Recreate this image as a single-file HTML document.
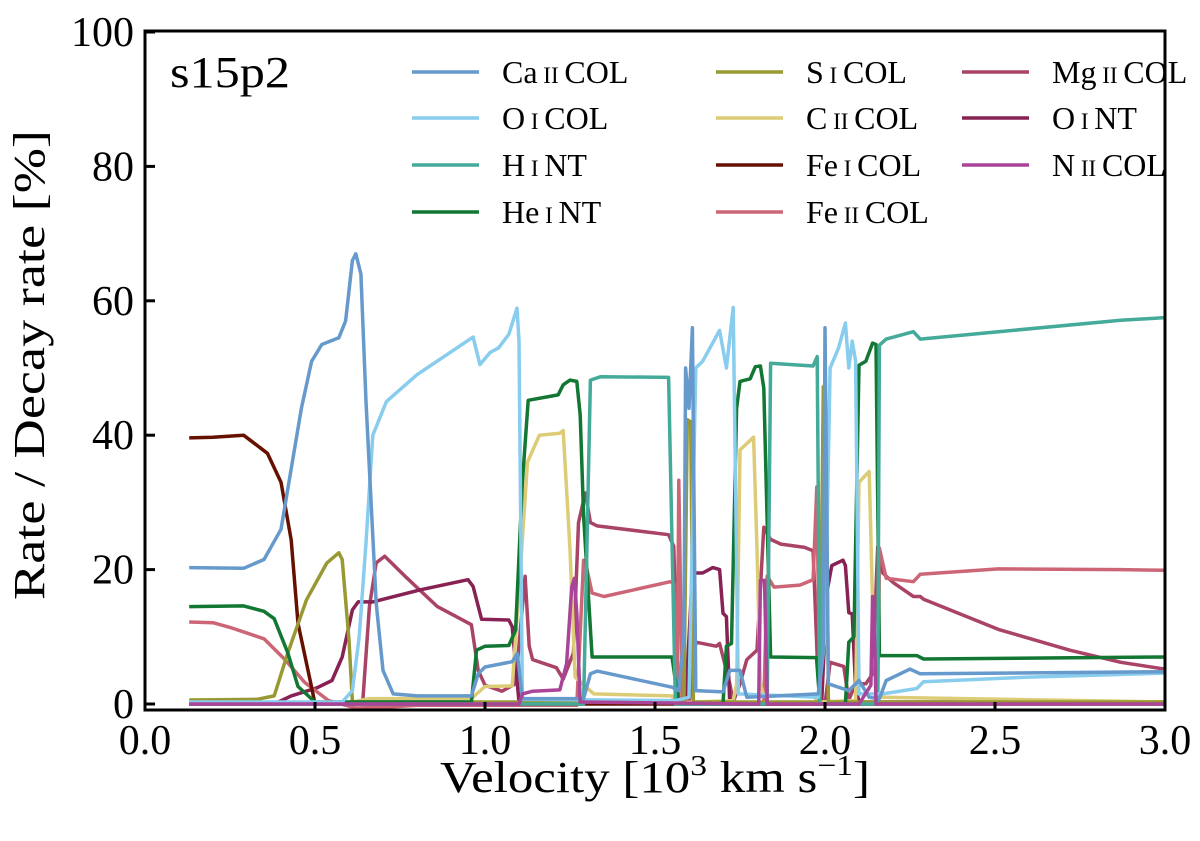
<!DOCTYPE html>
<html><head><meta charset="utf-8"><style>
html,body{margin:0;padding:0;background:#fff;}
svg{display:block;font-family:"Liberation Serif",serif;}
</style></head><body>
<svg id="chart" width="1200" height="841" viewBox="0 0 1200 841" xmlns="http://www.w3.org/2000/svg">
<defs><clipPath id="plotclip"><rect x="145" y="31" width="1020" height="679"/></clipPath></defs>
<g id="series" clip-path="url(#plotclip)"></g>
<rect x="145" y="31" width="1020" height="679" fill="none" stroke="#000" stroke-width="3"/>
<g id="axes"></g>
<text x="170" y="87" font-size="44" textLength="120" lengthAdjust="spacingAndGlyphs">s15p2</text>
<text x="440" y="792" font-size="44" textLength="430" lengthAdjust="spacingAndGlyphs">Velocity [10<tspan dy="-17" font-size="29">3</tspan><tspan dy="17"> km s</tspan><tspan dy="-17" font-size="29">−1</tspan><tspan dy="17">]</tspan></text>
<text transform="translate(44,365) rotate(-90)" font-size="44" text-anchor="middle" textLength="470" lengthAdjust="spacingAndGlyphs">Rate / Decay rate [%]</text>
<g id="legend"></g>
</svg>
<script>
const xTicks = [0.0, 0.5, 1.0, 1.5, 2.0, 2.5, 3.0];
const xTickLabels = ["0.0", "0.5", "1.0", "1.5", "2.0", "2.5", "3.0"];
const yTicks = [0, 20, 40, 60, 80, 100];
const yTickLabels = ["0", "20", "40", "60", "80", "100"];

const caII = [[0.13,20.3],[0.29,20.2],[0.35,21.5],[0.40,26],[0.43,35],[0.46,44],[0.49,51],[0.52,53.5],[0.57,54.5],[0.59,57],[0.61,66],[0.62,67],[0.635,64],[0.65,45],[0.665,30],[0.68,15],[0.70,5],[0.73,1.5],[0.80,1.2],[0.96,1.2],[0.98,4.5],[1.0,5.5],[1.08,6.3],[1.095,7.5],[1.11,0.8],[1.29,0.8],[1.31,4.5],[1.33,4.9],[1.55,2.5],[1.57,2],[1.585,10],[1.59,50],[1.60,44],[1.61,56],[1.62,2],[1.70,1.8],[1.72,5],[1.75,5],[1.77,1],[1.98,1.5],[1.995,8],[2.0,56],[2.01,3],[2.07,2],[2.10,3.5],[2.13,1],[2.16,0.8],[2.18,3.5],[2.25,5.2],[2.28,4.5],[3.0,4.8]];
const oICol = [[0.13,0.3],[0.58,0.3],[0.61,2],[0.63,10],[0.65,24],[0.67,40],[0.71,45],[0.80,49],[0.965,54.6],[0.985,50.5],[1.015,52.3],[1.04,53],[1.07,55],[1.094,58.9],[1.10,54],[1.11,0.7],[1.56,0.5],[1.60,1],[1.62,50],[1.64,51],[1.69,55.6],[1.71,50],[1.73,59],[1.745,1.5],[1.98,1],[2.0,10],[2.015,50],[2.04,53],[2.06,56.7],[2.07,50],[2.08,54],[2.09,51],[2.10,1.5],[2.17,1.5],[2.27,2.3],[2.29,3.3],[2.6,4],[3.0,4.6]];
const hINT = [[0.13,0],[1.29,0],[1.31,48.2],[1.34,48.7],[1.54,48.6],[1.56,0],[1.83,0],[1.84,50.7],[1.965,50.3],[1.977,51.7],[1.985,0],[2.155,0],[2.16,53.4],[2.18,54.3],[2.26,55.4],[2.28,54.3],[2.51,55.4],[2.87,57.1],[3.0,57.5]];
const heINT = [[0.13,14.5],[0.29,14.6],[0.35,13.8],[0.38,12.7],[0.42,7.6],[0.45,2.6],[0.50,0.3],[0.96,0.3],[0.975,8],[1.0,8.6],[1.07,8.7],[1.09,11],[1.11,33],[1.127,45.2],[1.215,46],[1.23,47.5],[1.25,48.2],[1.27,48],[1.28,43],[1.29,28],[1.315,7],[1.55,7],[1.57,0],[1.70,0],[1.71,8.6],[1.725,9],[1.74,44],[1.75,48],[1.78,48.4],[1.795,50.2],[1.81,50.3],[1.82,47],[1.84,7],[1.975,6.9],[1.985,0],[2.06,0],[2.07,9.2],[2.085,10],[2.10,50.4],[2.12,51],[2.14,53.7],[2.15,53.5],[2.16,7.2],[2.27,7.2],[2.29,6.7],[3.0,7.0]];
const sICol = [[0.13,0.6],[0.33,0.7],[0.38,1.2],[0.42,7.6],[0.475,15.5],[0.535,21],[0.57,22.5],[0.58,21.5],[0.60,9.5],[0.61,0.3],[1.585,0.3],[1.595,42.3],[1.605,42],[1.613,0.3],[1.985,0.3],[1.995,47.2],[2.002,45],[2.01,0.3],[3.0,0.3]];
const cIICol = [[0.13,0.2],[0.60,0.2],[0.66,0.8],[0.96,0.8],[1.0,2.6],[1.08,2.7],[1.10,17],[1.125,36],[1.16,40],[1.22,40.3],[1.23,40.7],[1.25,23],[1.265,4],[1.32,1.5],[1.55,1.2],[1.56,0.2],[1.73,0.5],[1.74,3],[1.75,37.8],[1.79,39.7],[1.80,23],[1.81,3],[1.82,1.2],[1.965,1.3],[1.98,0.3],[2.09,0.5],[2.10,33],[2.13,34.6],[2.14,15],[2.15,1.5],[2.17,1],[3.0,0.3]];
const feICol = [[0.13,39.6],[0.20,39.7],[0.29,40],[0.36,37.3],[0.40,33],[0.43,24.4],[0.45,12],[0.49,2.5],[0.50,0],[3.0,0]];
const feIICol = [[0.13,12.2],[0.20,12.1],[0.25,11.4],[0.35,9.7],[0.41,6.7],[0.47,3.2],[0.54,0.5],[0.62,-0.6],[0.70,-0.5],[0.80,-0.2],[1.27,-0.2],[1.29,21.4],[1.30,20],[1.315,16.5],[1.35,16],[1.545,18.2],[1.555,18],[1.565,0],[1.57,33.3],[1.58,0],[1.82,0],[1.83,19],[1.85,17.4],[1.926,17.7],[1.965,18.5],[1.976,32.3],[1.985,0],[2.155,0],[2.16,23.2],[2.18,18.7],[2.26,18.2],[2.28,19.3],[2.51,20.1],[2.87,20],[3.0,19.9]];
const mgIICol = [[0.13,0],[0.64,0],[0.66,14.5],[0.68,21],[0.705,22],[0.765,19],[0.86,14.5],[0.96,11.8],[0.98,5],[1.0,2.8],[1.05,1.9],[1.09,3],[1.118,19],[1.13,8.6],[1.14,6.6],[1.21,5.4],[1.23,3.7],[1.26,7.6],[1.275,27],[1.295,31.4],[1.31,27],[1.33,26.5],[1.54,25.2],[1.555,23.5],[1.57,0],[1.60,0],[1.62,9.2],[1.68,8.6],[1.69,9],[1.72,3],[1.73,0.3],[1.75,3],[1.77,6.6],[1.80,8],[1.82,26.3],[1.84,24.5],[1.87,23.8],[1.94,23.3],[1.965,22.8],[1.977,7],[1.985,0],[2.0,0],[2.015,6.2],[2.055,5.6],[2.07,0.6],[2.09,3],[2.12,3],[2.14,4.5],[2.155,23.4],[2.17,19.5],[2.20,18.1],[2.26,16],[2.28,16],[2.29,15.6],[2.51,11.1],[2.72,8],[2.87,6.2],[3.0,5.2]];
const oINT = [[0.13,0],[0.38,0],[0.43,1.2],[0.505,2.4],[0.55,3.5],[0.58,7],[0.61,14],[0.627,15.2],[0.67,15.2],[0.81,17],[0.95,18.5],[0.965,17.5],[0.99,12.6],[1.07,12.5],[1.08,11.5],[1.10,0.3],[1.59,0.3],[1.61,19.5],[1.64,19.5],[1.67,20.3],[1.69,20],[1.70,13.5],[1.71,13],[1.72,0],[1.99,0],[2.005,16.5],[2.02,20.6],[2.053,21.4],[2.06,20.6],[2.07,13.6],[2.08,13.4],[2.09,2.5],[2.10,0.3],[3.0,0.3]];
const nIICol = [[0.13,0],[1.10,0],[1.11,1.5],[1.14,1.9],[1.22,2.1],[1.24,6],[1.255,17.4],[1.263,18.7],[1.27,13.5],[1.28,0.3],[1.805,0],[1.81,18.4],[1.822,18.4],[1.83,0],[2.10,0],[2.135,2.8],[2.14,16],[2.145,12],[2.15,0],[3.0,0]];

const seriesList = [
  {name:"mg-ii-col", data:mgIICol, color:"#aa4466"},
  {name:"o-i-nt", data:oINT, color:"#882255"},
  {name:"fe-ii-col", data:feIICol, color:"#cc6677"},
  {name:"fe-i-col", data:feICol, color:"#661100"},
  {name:"c-ii-col", data:cIICol, color:"#ddcc77"},
  {name:"s-i-col", data:sICol, color:"#999933"},
  {name:"he-i-nt", data:heINT, color:"#117733"},
  {name:"h-i-nt", data:hINT, color:"#44aa99"},
  {name:"o-i-col", data:oICol, color:"#88ccee"},
  {name:"ca-ii-col", data:caII, color:"#6699cc"},
  {name:"n-ii-col", data:nIICol, color:"#aa4499"}
];

const X0 = 145, XS = 340, Y0 = 704, YS = 6.72;
function sx(v){ return X0 + v*XS; }
function sy(v){ return Y0 - v*YS; }
const NS = "http://www.w3.org/2000/svg";
const seriesG = document.getElementById('series');
seriesList.forEach(s => {
  const p = document.createElementNS(NS,'path');
  p.setAttribute('d', s.data.map((pt,i)=>(i?'L':'M')+sx(pt[0]).toFixed(1)+' '+sy(pt[1]).toFixed(1)).join(' '));
  p.setAttribute('fill','none');
  p.setAttribute('stroke', s.color);
  p.setAttribute('stroke-width','3.5');
  p.setAttribute('stroke-linejoin','round');
  
  
  seriesG.appendChild(p);
});

const axes = document.getElementById('axes');
xTicks.forEach((t,i) => {
  const l = document.createElementNS(NS,'line');
  l.setAttribute('x1', sx(t)); l.setAttribute('x2', sx(t));
  l.setAttribute('y1', 710); l.setAttribute('y2', 702);
  l.setAttribute('stroke','#000'); l.setAttribute('stroke-width','3');
  
  
  axes.appendChild(l);
  const tx = document.createElementNS(NS,'text');
  tx.setAttribute('x', sx(t)); tx.setAttribute('y', 754);
  tx.setAttribute('font-size','42'); tx.setAttribute('text-anchor','middle');
  tx.textContent = xTickLabels[i];
  
  
  axes.appendChild(tx);
});
yTicks.forEach((t,i) => {
  const l = document.createElementNS(NS,'line');
  l.setAttribute('x1', 145); l.setAttribute('x2', 155);
  l.setAttribute('y1', sy(t)); l.setAttribute('y2', sy(t));
  l.setAttribute('stroke','#000'); l.setAttribute('stroke-width','3');
  
  
  axes.appendChild(l);
  const tx = document.createElementNS(NS,'text');
  tx.setAttribute('x', 134); tx.setAttribute('y', sy(t)+14);
  tx.setAttribute('font-size','42'); tx.setAttribute('text-anchor','end');
  tx.textContent = yTickLabels[i];
  
  
  axes.appendChild(tx);
});

const legendItems = [
  {el:"Ca", ion:"II", t:"COL", c:"#6699cc", col:0, row:0},
  {el:"O", ion:"I", t:"COL", c:"#88ccee", col:0, row:1},
  {el:"H", ion:"I", t:"NT", c:"#44aa99", col:0, row:2},
  {el:"He", ion:"I", t:"NT", c:"#117733", col:0, row:3},
  {el:"S", ion:"I", t:"COL", c:"#999933", col:1, row:0},
  {el:"C", ion:"II", t:"COL", c:"#ddcc77", col:1, row:1},
  {el:"Fe", ion:"I", t:"COL", c:"#661100", col:1, row:2},
  {el:"Fe", ion:"II", t:"COL", c:"#cc6677", col:1, row:3},
  {el:"Mg", ion:"II", t:"COL", c:"#aa4466", col:2, row:0},
  {el:"O", ion:"I", t:"NT", c:"#882255", col:2, row:1},
  {el:"N", ion:"II", t:"COL", c:"#aa4499", col:2, row:2}
];
const colX = [412, 716, 962];
const rowY = [72, 118, 165, 212];
const lg = document.getElementById('legend');
legendItems.forEach(it => {
  const x = colX[it.col], y = rowY[it.row];
  const l = document.createElementNS(NS,'line');
  l.setAttribute('x1', x); l.setAttribute('x2', x+67);
  l.setAttribute('y1', y); l.setAttribute('y2', y);
  l.setAttribute('stroke', it.c); l.setAttribute('stroke-width','3.5');
  
  
  lg.appendChild(l);
  const tx = document.createElementNS(NS,'text');
  tx.setAttribute('x', x+90); tx.setAttribute('y', y+11);
  tx.setAttribute('font-size','32');
  tx.innerHTML = it.el + '<tspan font-size="23"> ' + it.ion + ' </tspan>' + it.t;
  
  
  lg.appendChild(tx);
});
</script>
</body></html>
